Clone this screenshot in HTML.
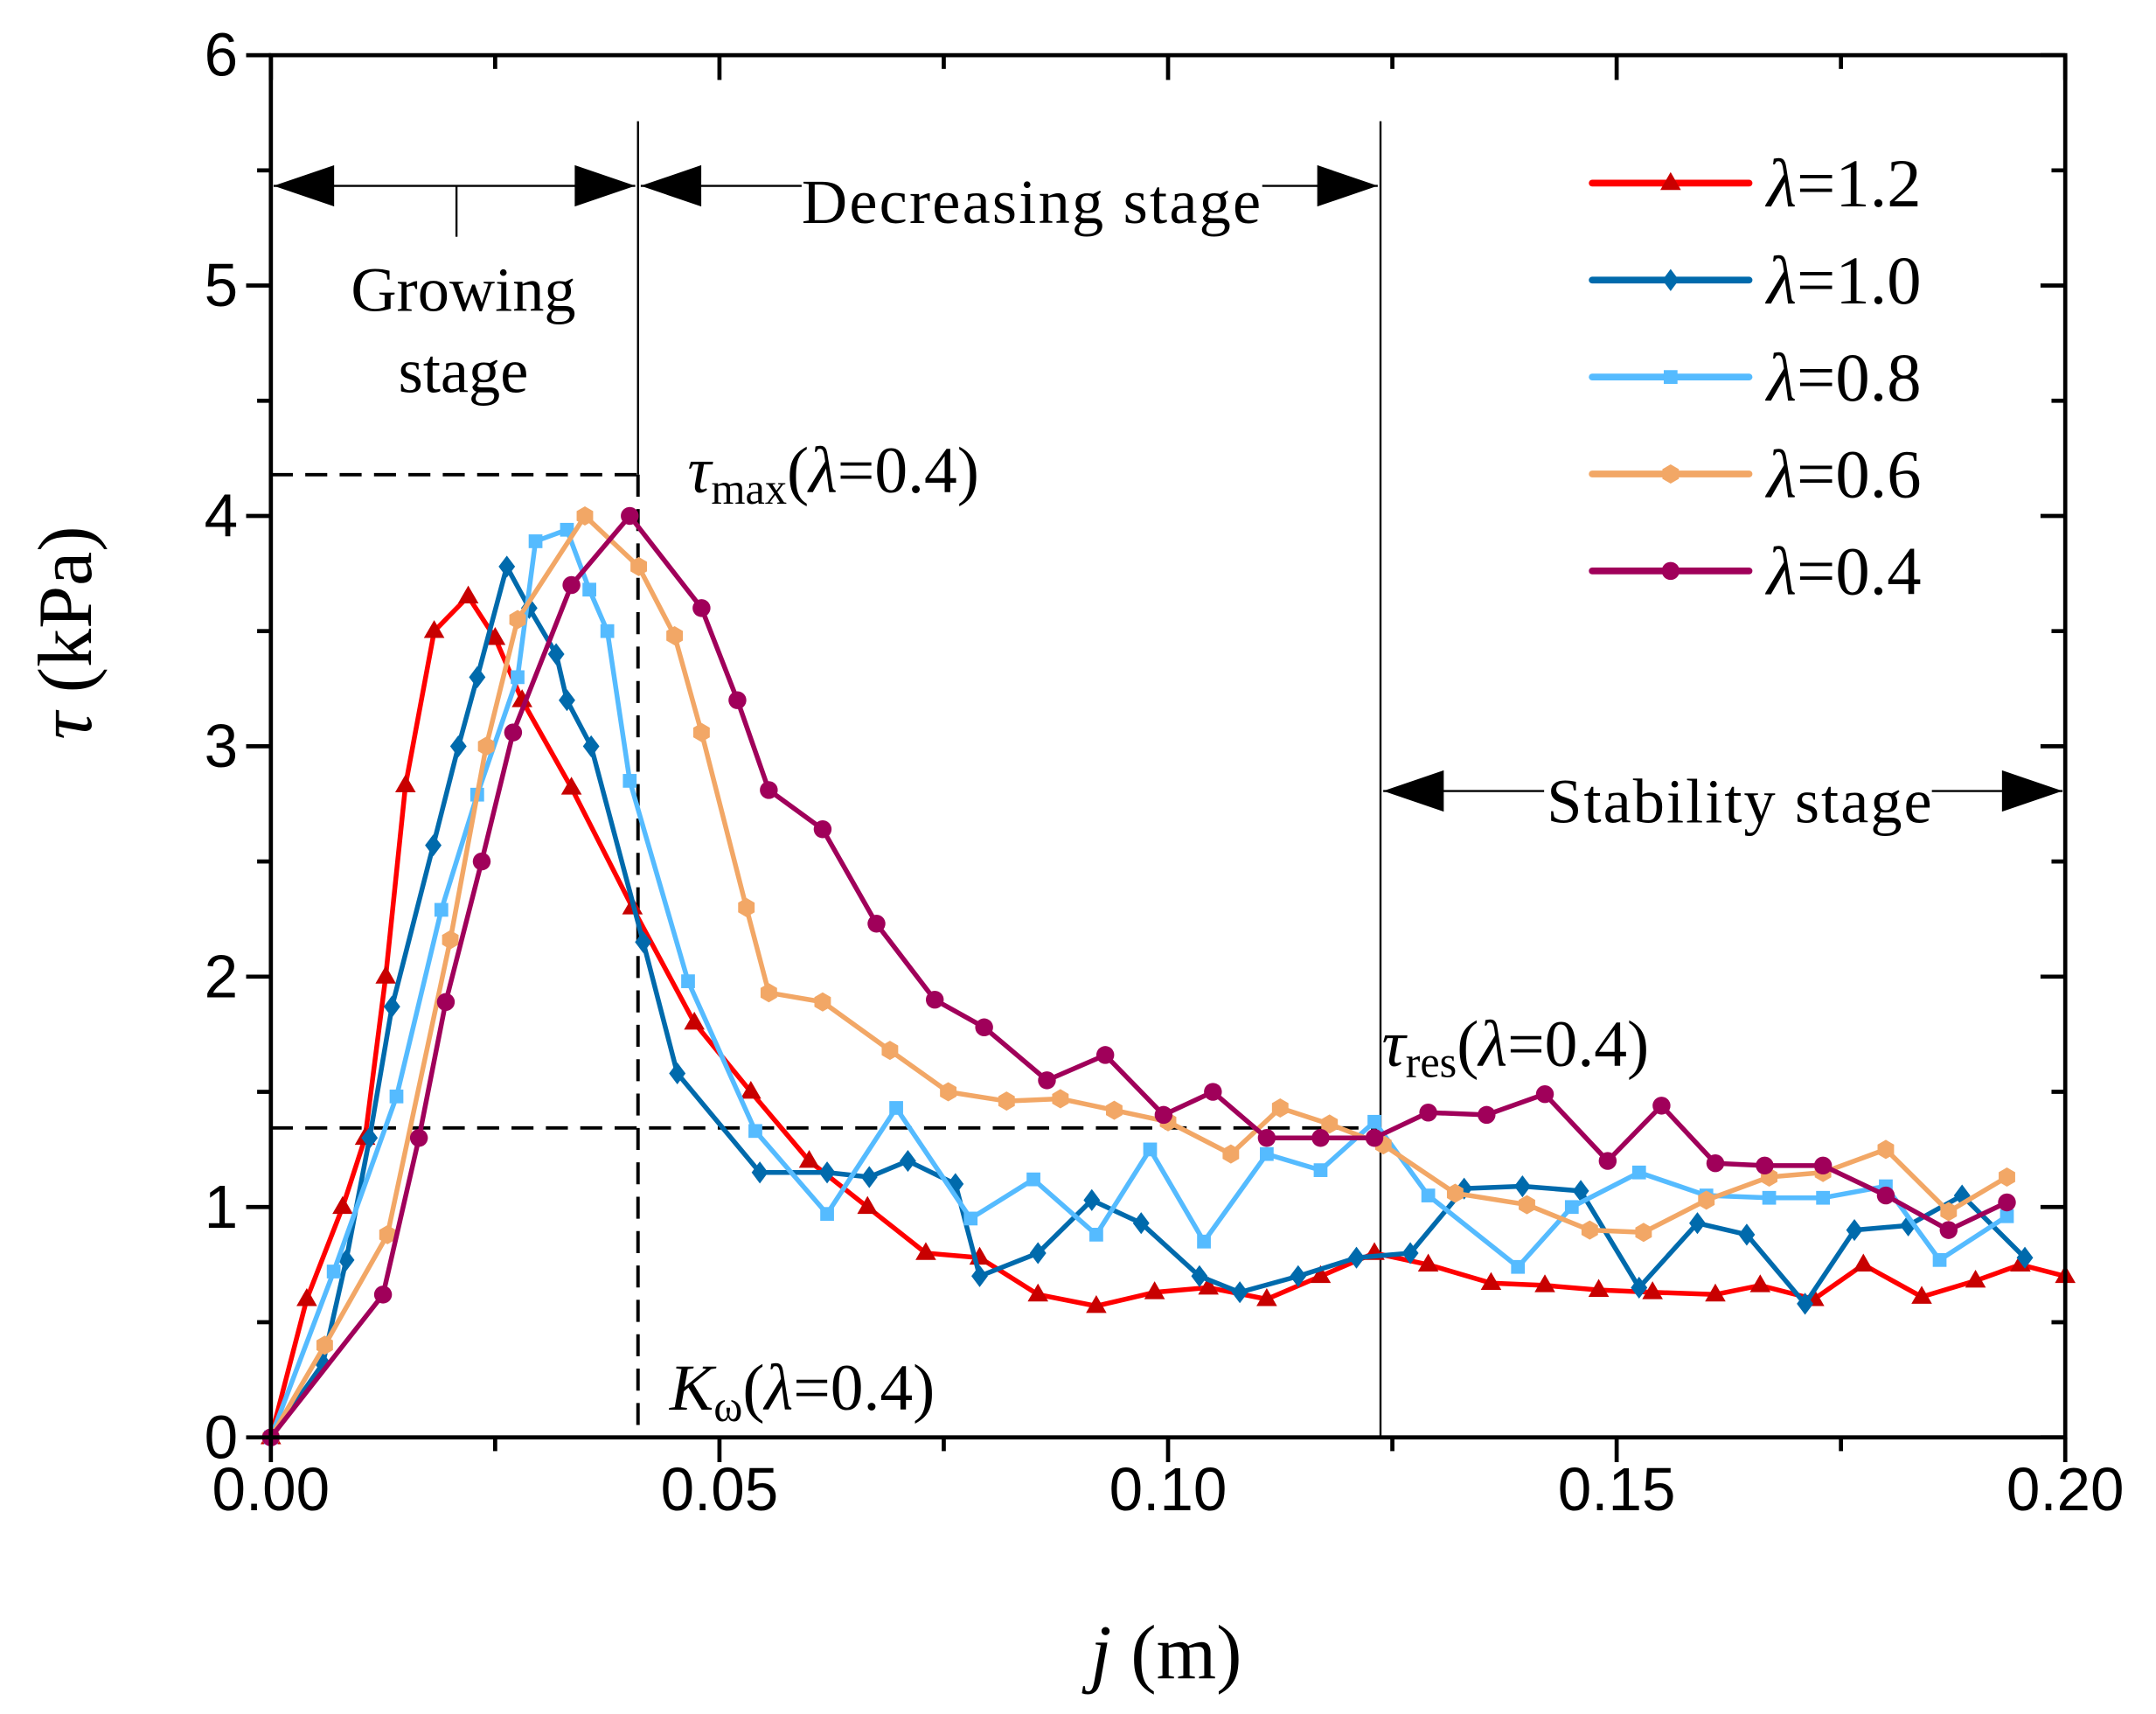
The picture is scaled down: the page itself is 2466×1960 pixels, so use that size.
<!DOCTYPE html>
<html><head><meta charset="utf-8"><style>html,body{margin:0;padding:0;background:#fff}svg{display:block}</style></head>
<body>
<svg id="chart" xmlns="http://www.w3.org/2000/svg" width="2466" height="1960" viewBox="0 0 1568 1246">
<rect width="1568" height="1246" fill="#fff"/>
<g id="annot" font-family="Liberation Serif, serif" fill="#000"></g>
<g id="series"></g>
<g id="axes"></g>
<g id="legend"></g>
</svg>
<script>
const xTicks=[0,0.05,0.10,0.15,0.20];
const xTickLabels=["0.00","0.05","0.10","0.15","0.20"];
const yTicks=[0,1,2,3,4,5,6];
const yTickLabels=["0","1","2","3","4","5","6"];
const seriesNames=["λ=1.2","λ=1.0","λ=0.8","λ=0.6","λ=0.4"];
const x12=[0,.004,.008,.0105,.0128,.015,.0182,.022,.025,.028,.0335,.0403,.0472,.0535,.06,.0665,.073,.079,.0855,.092,.0985,.1045,.111,.117,.123,.129,.136,.142,.148,.154,.161,.166,.172,.1775,.184,.19,.195,.2];
const y12=[0,.6,1.0,1.3,2.0,2.83,3.5,3.65,3.47,3.2,2.82,2.3,1.8,1.5,1.2,1.0,.8,.78,.62,.57,.63,.65,.6,.7,.8,.75,.67,.66,.64,.63,.62,.66,.6,.75,.61,.68,.75,.7];
const x10=[0,.0058,.0084,.011,.0135,.0181,.0209,.023,.0263,.0288,.0318,.033,.0357,.0415,.0453,.0545,.062,.0667,.071,.0763,.079,.0855,.0915,.097,.1035,.108,.1145,.121,.127,.133,.1395,.146,.1525,.159,.1645,.171,.1765,.1825,.1885,.1955];
const y10=[0,.32,.77,1.3,1.87,2.57,3.0,3.3,3.78,3.6,3.4,3.2,3.0,2.15,1.58,1.15,1.15,1.13,1.2,1.1,.7,.8,1.03,.93,.7,.63,.7,.78,.8,1.08,1.09,1.07,.65,.93,.88,.58,.9,.92,1.05,.78];
const x08=[0,.007,.014,.019,.023,.0275,.0295,.033,.0355,.0375,.04,.0465,.054,.062,.0697,.078,.085,.092,.098,.104,.111,.117,.123,.129,.139,.145,.1525,.16,.167,.173,.18,.186,.1935];
const y08=[0,.72,1.48,2.29,2.79,3.3,3.89,3.94,3.68,3.5,2.85,1.98,1.33,.97,1.43,.95,1.12,.88,1.25,.85,1.23,1.16,1.37,1.05,.74,1.0,1.15,1.05,1.04,1.04,1.09,.77,.96];
const x06=[0,.006,.013,.02,.024,.0275,.035,.041,.045,.048,.053,.0555,.0615,.069,.0755,.082,.088,.094,.1,.107,.1125,.118,.124,.132,.14,.147,.153,.16,.167,.173,.18,.187,.1935];
const y06=[0,.4,.88,2.16,3.0,3.55,4.0,3.78,3.48,3.06,2.3,1.93,1.89,1.68,1.5,1.46,1.47,1.42,1.37,1.23,1.43,1.36,1.27,1.06,1.01,.9,.89,1.03,1.13,1.15,1.25,.98,1.13];
const x04=[0,.0125,.0165,.0195,.0235,.027,.0335,.04,.048,.052,.0555,.0615,.0675,.074,.0795,.0865,.093,.0995,.105,.111,.117,.123,.129,.1355,.142,.149,.155,.161,.1665,.173,.18,.187,.1935];
const y04=[0,.62,1.3,1.89,2.5,3.06,3.7,4.0,3.6,3.2,2.81,2.64,2.23,1.9,1.78,1.55,1.66,1.4,1.5,1.3,1.3,1.3,1.41,1.4,1.49,1.2,1.44,1.19,1.18,1.18,1.05,.9,1.02];
const X0=197,X1=1502,Y0=1045,Y1=40;
const sx=v=>X0+(v/0.2)*(X1-X0);
const sy=v=>Y0-(v/6)*(Y0-Y1);
const NS="http://www.w3.org/2000/svg";
function mk(tag,attrs,parent){const e=document.createElementNS(NS,tag);for(const k in attrs)e.setAttribute(k,attrs[k]);parent.appendChild(e);return e;}
const colors=["#ff0000","#006aac","#55bbff","#f2a766","#a0005a"];
const mcolors=["#c80000","#006aac","#55bbff","#f2a766","#a0005a"];
const shapes=["tri","dia","sq","hex","circ"];
const keys=["lambda-1-2","lambda-1-0","lambda-0-8","lambda-0-6","lambda-0-4"];
function marker(shape,cx,cy,col,parent){
 let e;
 if(shape==="tri")e=mk("polygon",{points:`${cx},${cy-8} ${cx-7.5},${cy+5} ${cx+7.5},${cy+5}`,fill:col},parent);
 else if(shape==="dia")e=mk("polygon",{points:`${cx},${cy-8} ${cx+6},${cy} ${cx},${cy+8} ${cx-6},${cy}`,fill:col},parent);
 else if(shape==="sq")e=mk("rect",{x:cx-5,y:cy-5,width:10,height:10,fill:col},parent);
 else if(shape==="hex")e=mk("polygon",{points:`${cx},${cy-7} ${cx+6},${cy-3.5} ${cx+6},${cy+3.5} ${cx},${cy+7} ${cx-6},${cy+3.5} ${cx-6},${cy-3.5}`,fill:col},parent);
 else e=mk("circle",{cx:cx,cy:cy,r:6.5,fill:col},parent);
 return e;
}
const an=document.getElementById('annot');
const ln=(x1,y1,x2,y2,w,dash,name)=>{const e=mk("line",{x1,y1,x2,y2,stroke:"#000","stroke-width":w},an);if(dash)e.setAttribute("stroke-dasharray",dash);return e;};
ln(464,88,464,345,1.5,null,"growing-boundary-line");
ln(1004,88,1004,1045,1.5,null,"decreasing-boundary-line");
ln(197,345,470,345,2.5,"16 9","tau-max-dashed-line");
ln(197,820,1004,820,2.5,"16 9","tau-res-dashed-line");
ln(464,345,464,1045,2.5,"16 9","k-omega-dashed-line");
function arrow(x1,x2,y,name){
 const g=mk("g",{},an);
 mk("line",{x1:x1,y1:y,x2:x2,y2:y,stroke:"#000","stroke-width":1.5},g);
 mk("polygon",{points:`${x1},${y} ${x1+44},${y-15} ${x1+44},${y+15}`,fill:"#000"},g);
 mk("polygon",{points:`${x2},${y} ${x2-44},${y-15} ${x2-44},${y+15}`,fill:"#000"},g);
}
arrow(199,462,135,"growing-arrow");arrow(466,1002,135,"decreasing-arrow");arrow(1006,1500,575,"stability-arrow");
ln(332,135,332,172,1.5,null,"growing-pointer");
const txt=(x,y,s,html,name,anchor)=>{const t=mk("text",{x,y,"font-size":s,"text-anchor":anchor||"start"},an);t.innerHTML=html;return t;};
mk("rect",{x:583,y:120,width:335,height:44,fill:"#fff"},an);
mk("rect",{x:1123,y:556,width:282,height:44,fill:"#fff"},an);
txt(750,162,46,"Decreasing stage","decreasing-stage-label","middle").setAttribute("textLength","334");
txt(1265,598,46,"Stability stage","stability-stage-label","middle").setAttribute("textLength","280");
txt(337,226,46,"Growing","growing-label","middle");
txt(337,285,46,"stage","growing-stage-label","middle");
txt(500,358,48,'<tspan font-style="italic">τ</tspan><tspan font-size="32" dy="8">max</tspan><tspan dy="-8">(</tspan><tspan font-style="italic">λ</tspan>=0.4)',"tau-max-label");
txt(1005,775,48,'<tspan font-style="italic">τ</tspan><tspan font-size="32" dy="8">res</tspan><tspan dy="-8">(</tspan><tspan font-style="italic">λ</tspan>=0.4)',"tau-res-label");
txt(487,1025,48,'<tspan font-style="italic">K</tspan><tspan font-size="32" dy="8">ω</tspan><tspan dy="-8">(</tspan><tspan font-style="italic">λ</tspan>=0.4)',"k-omega-label");
const sg=document.getElementById('series');
const XS=[x12,x10,x08,x06,x04],YS=[y12,y10,y08,y06,y04];
for(let i=0;i<5;i++){
 const g=mk("g",{},sg);
 
 
 const pts=XS[i].map((x,j)=>sx(x).toFixed(1)+","+sy(YS[i][j]).toFixed(1)).join(" ");
 const pl=mk("polyline",{points:pts,fill:"none",stroke:colors[i],"stroke-width":3.5,"stroke-linejoin":"round"},g);
 
 
 XS[i].forEach((x,j)=>{
  const m=marker(shapes[i],sx(x),sy(YS[i][j]),mcolors[i],g);
  
  
 });
}
const ax=document.getElementById('axes');
const fr=mk("rect",{x:X0,y:Y1,width:X1-X0,height:Y0-Y1,fill:"none",stroke:"#000","stroke-width":3},ax);


for(let k=0;k<=8;k++){const v=k*0.025,x=sx(v),len=k%2?10:18;
 mk("line",{x1:x,y1:Y0,x2:x,y2:Y0+len,stroke:"#000","stroke-width":3},ax);
 mk("line",{x1:x,y1:Y1,x2:x,y2:Y1+len,stroke:"#000","stroke-width":3},ax);}
for(let k=0;k<=12;k++){const v=k*0.5,y=sy(v),len=k%2?10:18;
 mk("line",{x1:X0,y1:y,x2:X0-len,y2:y,stroke:"#000","stroke-width":3},ax);
 mk("line",{x1:X1,y1:y,x2:X1-len,y2:y,stroke:"#000","stroke-width":3},ax);}
xTicks.forEach((v,i)=>{const t=mk("text",{x:sx(v),y:1098,"font-size":44,"font-family":"Liberation Sans, sans-serif","text-anchor":"middle"},ax);t.textContent=xTickLabels[i];
 
 });
yTicks.forEach((v,i)=>{const t=mk("text",{x:173,y:sy(v)+15,"font-size":44,"font-family":"Liberation Sans, sans-serif","text-anchor":"end"},ax);t.textContent=yTickLabels[i];
 
 });
const xt=mk("text",{x:848,y:1220,"font-size":56,"font-family":"Liberation Serif, serif","text-anchor":"middle"},ax);
xt.innerHTML='<tspan font-style="italic">j</tspan> (m)';


const yt=mk("text",{x:0,y:0,"font-size":56,"font-family":"Liberation Serif, serif","text-anchor":"middle",transform:"translate(66,460) rotate(-90)"},ax);
yt.innerHTML='<tspan font-style="italic">τ</tspan> (kPa)';


const lg=document.getElementById('legend');
seriesNames.forEach((n,i)=>{const y=133+i*70.5;
 const g=mk("g",{},lg);
 
 
 mk("line",{x1:1158,y1:y,x2:1272,y2:y,stroke:colors[i],"stroke-width":5,"stroke-linecap":"round"},g);
 marker(shapes[i],1215,y,mcolors[i],g);
 const t=mk("text",{x:1285,y:y+17,"font-size":50,"font-family":"Liberation Serif, serif"},g);
 t.innerHTML='<tspan font-style="italic">λ</tspan>'+n.slice(1);
});
</script>
</body></html>
